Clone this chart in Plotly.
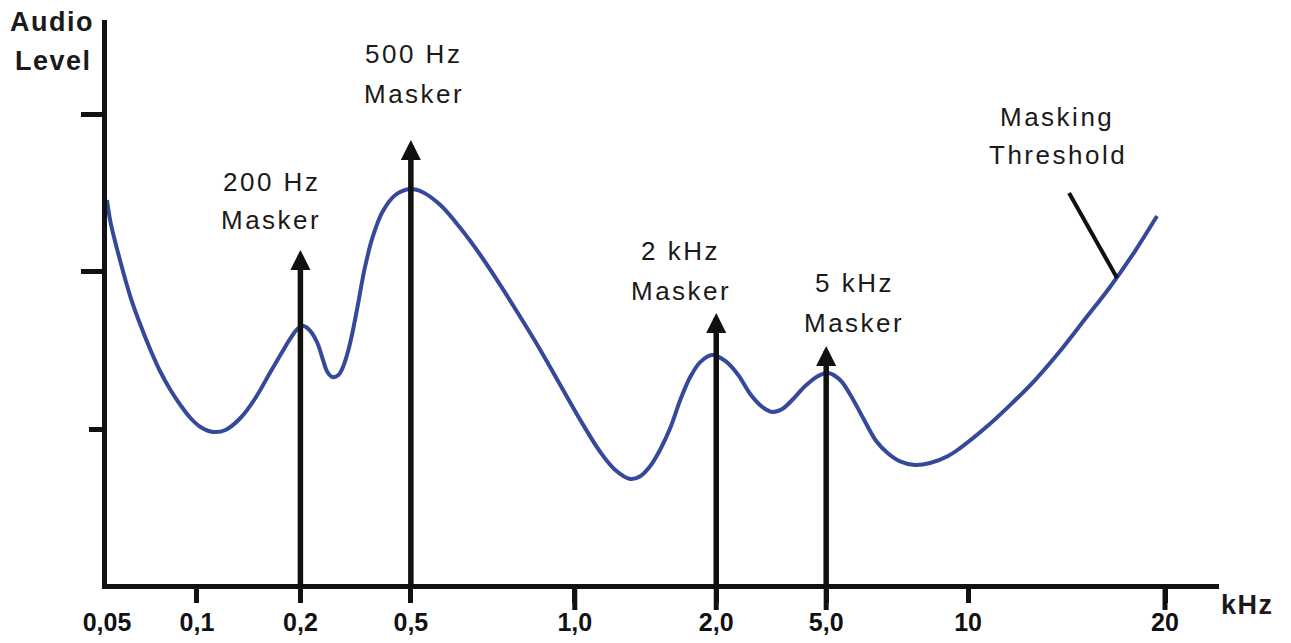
import plotly.graph_objects as go

# ---------------- data ----------------
tick_labels = ["0,05", "0,1", "0,2", "0,5", "1,0", "2,0", "5,0", "10", "20"]
tick_pos = [0, 90, 193.5, 304, 468, 609.5, 719.5, 861.5, 1058.5]
long_tick_labels = ["1,0", "2,0", "5,0", "20"]

level_major = [2, 3]
level_minor = [1]

curve_x = [0, 3.5, 13.5, 23.5, 33.5, 43.5, 53.5, 63.5, 73.5, 83.5,
           93.5, 106.5, 118.5, 133.5, 148.5, 163.5, 173.5, 183.5, 190.5, 196.5,
           203.5, 210.5, 215.5, 220.5, 225.5, 231.5, 236.5, 241.5, 246.5, 251.5,
           257.5, 265.5, 275.5, 288.5, 303.5, 315.5, 333.5, 353.5, 373.5, 393.5,
           413.5, 433.5, 453.5, 473.5, 493.5, 508.5, 523.5, 533.5, 543.5, 553.5,
           563.5, 573.5, 583.5, 593.5, 605.5, 618.5, 631.5, 643.5, 655.5, 665.5,
           675.5, 685.5, 698.5, 711.5, 721.5, 733.5, 745.5, 757.5, 769.5, 781.5,
           793.5, 808.5, 823.5, 841.5, 853.5, 878.5, 903.5, 928.5, 953.5, 978.5,
           1003.5, 1028.5, 1050.5]
curve_y = [2.454, 2.314, 2.060, 1.838, 1.660, 1.502, 1.362, 1.248, 1.152, 1.070,
           1.013, 0.981, 0.994, 1.070, 1.197, 1.362, 1.470, 1.575, 1.635, 1.654,
           1.622, 1.546, 1.451, 1.362, 1.330, 1.343, 1.400, 1.502, 1.641, 1.806,
           2.010, 2.213, 2.378, 2.486, 2.524, 2.505, 2.422, 2.276, 2.105, 1.914,
           1.711, 1.502, 1.279, 1.057, 0.854, 0.740, 0.683, 0.700, 0.765, 0.870,
           1.006, 1.184, 1.330, 1.425, 1.470, 1.432, 1.343, 1.222, 1.140, 1.108,
           1.127, 1.184, 1.273, 1.337, 1.356, 1.311, 1.197, 1.057, 0.924, 0.845,
           0.795, 0.771, 0.784, 0.829, 0.879, 1.006, 1.152, 1.311, 1.495, 1.698,
           1.902, 2.130, 2.352]

masker_names = ["200 Hz", "500 Hz", "2 kHz", "5 kHz"]
masker_pos = [193.5, 304, 609.5, 719.5]
masker_level = [2.137, 2.835, 1.737, 1.527]

pointer_x = [962.5, 1010.5]
pointer_y = [2.498, 1.959]

# ---------------- figure ----------------
INK = "#111111"
BLUE = "#34499a"
FONT = "Liberation Sans"
PLOT_W = 1112.5
PLOT_H = 564.0

fig = go.Figure()
fig.add_trace(go.Scatter(
    x=curve_x, y=curve_y, mode="lines",
    line=dict(color=BLUE, width=4, shape="spline", smoothing=1.0),
    hoverinfo="skip", showlegend=False))
fig.add_trace(go.Scatter(
    x=pointer_x, y=pointer_y, mode="lines",
    line=dict(color=INK, width=4),
    hoverinfo="skip", showlegend=False))

annotations = []
# masker arrows
for mx, ml in zip(masker_pos, masker_level):
    annotations.append(dict(
        x=mx, y=ml, ax=mx, ay=0, xref="x", yref="y", axref="x", ayref="y",
        text="", showarrow=True, arrowhead=2, arrowsize=0.73, arrowwidth=5.5,
        arrowcolor=INK, standoff=0))


def label(text, x, y, size=26, bold=False, spacing=2.5, xref="x", yref="y"):
    annotations.append(dict(
        x=x, y=y, xref=xref, yref=yref, xanchor="center", yanchor="middle",
        text='<span style="letter-spacing:%spx">%s</span>' % (spacing, text),
        showarrow=False,
        font=dict(family=FONT, size=size, color="#1a1a1a",
                  weight="bold" if bold else "normal")))


label(masker_names[0], 164.5, 2.568)
label("Masker", 164.5, 2.327)
label(masker_names[1], 306.5, 3.378)
label("Masker", 307.5, 3.124)
label(masker_names[2], 573.5, 2.130)
label("Masker", 574.5, 1.876)
label(masker_names[3], 747.5, 1.927)
label("Masker", 747.5, 1.676)
label("Masking", 950.5, 2.984)
label("Threshold", 951.5, 2.740)
label("Audio", -55 / PLOT_W, 3.584, size=27, bold=True, spacing=1.5, xref="paper")
label("Level", -54 / PLOT_W, 3.337, size=27, bold=True, spacing=1.5, xref="paper")
label("kHz", 1141.5 / PLOT_W, -21 / PLOT_H, size=27, bold=True, spacing=1.5,
      xref="paper", yref="paper")

shapes = []
for lbl in long_tick_labels:
    p = tick_pos[tick_labels.index(lbl)]
    shapes.append(dict(type="line", xref="x", yref="paper", x0=p, x1=p,
                       y0=0, y1=-26 / PLOT_H, line=dict(color=INK, width=5)))

fig.update_layout(
    width=1275, height=627,
    margin=dict(l=98.5, r=64, t=12, b=51, pad=0),
    paper_bgcolor="white", plot_bgcolor="white",
    showlegend=False,
    annotations=annotations,
    shapes=shapes,
    xaxis=dict(
        range=[0, PLOT_W], showline=True, linewidth=5, linecolor=INK,
        showgrid=False, zeroline=False, automargin=False, fixedrange=True,
        tickmode="array", tickvals=tick_pos, ticktext=tick_labels,
        ticks="inside", ticklen=0, ticklabelstandoff=12,
        tickfont=dict(family=FONT, size=25, color=INK, weight="bold"),
        minor=dict(tickmode="array", tickvals=tick_pos[1:], ticks="outside",
                   ticklen=14, tickwidth=5, tickcolor=INK),
    ),
    yaxis=dict(
        range=[0.0159, 3.597], showline=True, linewidth=5, linecolor=INK,
        showgrid=False, zeroline=False, automargin=False, fixedrange=True,
        tickmode="array", tickvals=level_major, ticks="outside",
        ticklen=21.5, tickwidth=5, tickcolor=INK, showticklabels=False,
        minor=dict(tickmode="array", tickvals=level_minor, ticks="outside",
                   ticklen=13.5, tickwidth=5, tickcolor=INK),
    ),
)

fig.write_html("out.html", config={"displayModeBar": False})
